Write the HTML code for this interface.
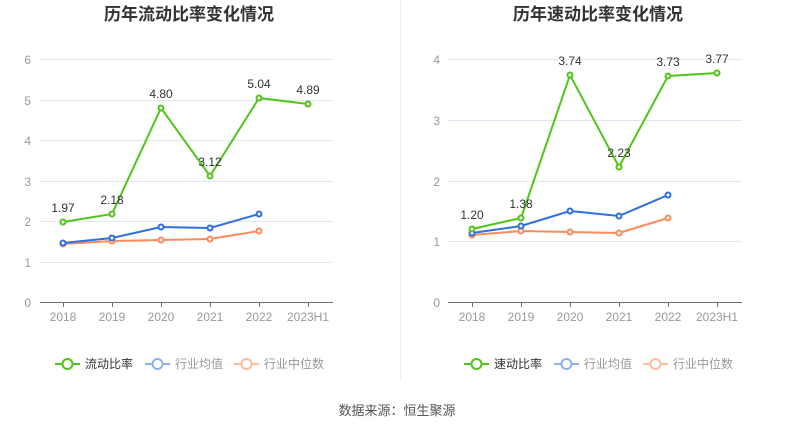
<!DOCTYPE html>
<html><head><meta charset="utf-8"><style>
body{margin:0;background:#fff;}
svg{display:block;font-family:"Liberation Sans","Noto Sans CJK SC",sans-serif;}
</style></head><body>
<svg width="794" height="432" viewBox="0 0 794 432">
<line x1="400.5" y1="0" x2="400.5" y2="380" stroke="#eee"/>
<text x="189" y="20" font-size="17" font-weight="bold" fill="#333" text-anchor="middle">历年流动比率变化情况</text>
<text x="598" y="20" font-size="17" font-weight="bold" fill="#333" text-anchor="middle">历年速动比率变化情况</text>
<g stroke="#e0e6f1" stroke-width="1">
<line x1="40" y1="59.5" x2="333" y2="59.5"/><line x1="40" y1="100.5" x2="333" y2="100.5"/><line x1="40" y1="140.5" x2="333" y2="140.5"/><line x1="40" y1="181.5" x2="333" y2="181.5"/><line x1="40" y1="221.5" x2="333" y2="221.5"/><line x1="40" y1="262.5" x2="333" y2="262.5"/>
<line x1="448" y1="59.5" x2="742" y2="59.5"/><line x1="448" y1="120.5" x2="742" y2="120.5"/><line x1="448" y1="181.5" x2="742" y2="181.5"/><line x1="448" y1="241.5" x2="742" y2="241.5"/>
</g>
<g stroke="#6e7079"><line x1="40" y1="302.5" x2="333" y2="302.5"/><line x1="448" y1="302.5" x2="742" y2="302.5"/>
<path d="M63.5 302v5M112.5 302v5M161.5 302v5M210.5 302v5M259.5 302v5M308.5 302v5M472.5 302v5M521.5 302v5M570.5 302v5M619.5 302v5M668.5 302v5M717.5 302v5"/></g>
<g font-size="12" fill="#999" text-anchor="end">
<text x="31" y="64">6</text><text x="31" y="105">5</text><text x="31" y="145">4</text><text x="31" y="186">3</text><text x="31" y="226">2</text><text x="31" y="267">1</text><text x="31" y="307">0</text>
<text x="440" y="64">4</text><text x="440" y="125">3</text><text x="440" y="186">2</text><text x="440" y="246">1</text><text x="440" y="307">0</text>
</g>
<g font-size="12" fill="#999" text-anchor="middle">
<text x="63" y="321">2018</text><text x="112" y="321">2019</text><text x="161" y="321">2020</text><text x="210" y="321">2021</text><text x="259" y="321">2022</text><text x="308" y="321">2023H1</text>
<text x="472" y="321">2018</text><text x="521" y="321">2019</text><text x="570" y="321">2020</text><text x="619" y="321">2021</text><text x="668" y="321">2022</text><text x="717" y="321">2023H1</text>
</g>
<g fill="#fff" stroke-width="2">
<polyline fill="none" stroke="#ff8a5c" points="63,244 112,241 161,240 210,239 259,231"/>
<polyline fill="none" stroke="#2f6fde" points="63,243 112,238 161,227 210,228 259,214"/>
<polyline fill="none" stroke="#52c41a" points="63,222 112,214 161,108 210,176 259,98 308,104"/>
<g stroke="#ff8a5c"><circle cx="63" cy="244" r="2.5"/><circle cx="112" cy="241" r="2.5"/><circle cx="161" cy="240" r="2.5"/><circle cx="210" cy="239" r="2.5"/><circle cx="259" cy="231" r="2.5"/></g>
<g stroke="#2f6fde"><circle cx="63" cy="243" r="2.5"/><circle cx="112" cy="238" r="2.5"/><circle cx="161" cy="227" r="2.5"/><circle cx="210" cy="228" r="2.5"/><circle cx="259" cy="214" r="2.5"/></g>
<g stroke="#52c41a"><circle cx="63" cy="222" r="2.5"/><circle cx="112" cy="214" r="2.5"/><circle cx="161" cy="108" r="2.5"/><circle cx="210" cy="176" r="2.5"/><circle cx="259" cy="98" r="2.5"/><circle cx="308" cy="104" r="2.5"/></g>
<polyline fill="none" stroke="#ff8a5c" points="472,235 521,231 570,232 619,233 668,218"/>
<polyline fill="none" stroke="#2f6fde" points="472,233 521,226 570,211 619,216 668,195"/>
<polyline fill="none" stroke="#52c41a" points="472,229 521,218 570,75 619,167 668,76 717,73"/>
<g stroke="#ff8a5c"><circle cx="472" cy="235" r="2.5"/><circle cx="521" cy="231" r="2.5"/><circle cx="570" cy="232" r="2.5"/><circle cx="619" cy="233" r="2.5"/><circle cx="668" cy="218" r="2.5"/></g>
<g stroke="#2f6fde"><circle cx="472" cy="233" r="2.5"/><circle cx="521" cy="226" r="2.5"/><circle cx="570" cy="211" r="2.5"/><circle cx="619" cy="216" r="2.5"/><circle cx="668" cy="195" r="2.5"/></g>
<g stroke="#52c41a"><circle cx="472" cy="229" r="2.5"/><circle cx="521" cy="218" r="2.5"/><circle cx="570" cy="75" r="2.5"/><circle cx="619" cy="167" r="2.5"/><circle cx="668" cy="76" r="2.5"/><circle cx="717" cy="73" r="2.5"/></g>
</g>
<g font-size="12" fill="#333" text-anchor="middle">
<text x="63" y="212">1.97</text><text x="112" y="204">2.18</text><text x="161" y="98">4.80</text><text x="210" y="166">3.12</text><text x="259" y="88">5.04</text><text x="308" y="94">4.89</text>
<text x="472" y="219">1.20</text><text x="521" y="208">1.38</text><text x="570" y="65">3.74</text><text x="619" y="157">2.23</text><text x="668" y="66">3.73</text><text x="717" y="63">3.77</text>
</g>
<g font-size="12" fill="#666" stroke-width="2">
<line x1="55" y1="364" x2="80" y2="364" stroke="#52c41a"/><circle cx="67.5" cy="364" r="5" fill="#fff" stroke="#52c41a"/><text x="85" y="368" fill="#333">流动比率</text>
<line x1="145" y1="364" x2="170" y2="364" stroke="#8fb0f0"/><circle cx="157.5" cy="364" r="5" fill="#fff" stroke="#8fb0f0"/><text x="175" y="368" fill="#999">行业均值</text>
<line x1="234" y1="364" x2="259" y2="364" stroke="#ffbba3"/><circle cx="246.5" cy="364" r="5" fill="#fff" stroke="#ffbba3"/><text x="264" y="368" fill="#999">行业中位数</text>
<line x1="464" y1="364" x2="489" y2="364" stroke="#52c41a"/><circle cx="476.5" cy="364" r="5" fill="#fff" stroke="#52c41a"/><text x="494" y="368" fill="#333">速动比率</text>
<line x1="554" y1="364" x2="579" y2="364" stroke="#8fb0f0"/><circle cx="566.5" cy="364" r="5" fill="#fff" stroke="#8fb0f0"/><text x="584" y="368" fill="#999">行业均值</text>
<line x1="643" y1="364" x2="668" y2="364" stroke="#ffbba3"/><circle cx="655.5" cy="364" r="5" fill="#fff" stroke="#ffbba3"/><text x="673" y="368" fill="#999">行业中位数</text>
</g>
<text x="397" y="415" font-size="13" fill="#555" text-anchor="middle">数据来源：恒生聚源</text>
</svg>
</body></html>
